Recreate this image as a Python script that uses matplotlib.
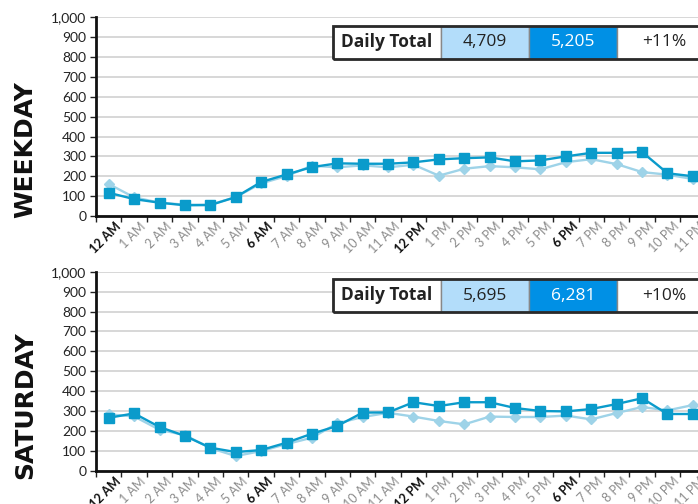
import matplotlib
matplotlib.use("Agg")
from matplotlib import pyplot as plt

# hourly volumes, current year (dark) vs previous year (light)
hours = ["12 AM", "1 AM", "2 AM", "3 AM", "4 AM", "5 AM", "6 AM", "7 AM", "8 AM", "9 AM",
         "10 AM", "11 AM", "12 PM", "1 PM", "2 PM", "3 PM", "4 PM", "5 PM", "6 PM", "7 PM",
         "8 PM", "9 PM", "10 PM", "11 PM"]
bold_hours = ["12 AM", "6 AM", "12 PM", "6 PM"]

weekday_now = [117, 85, 67, 54, 55, 95, 171, 209, 246, 265, 263, 263,
               270, 285, 291, 295, 275, 280, 300, 318, 318, 322, 215, 200]
weekday_prev = [161, 94, 67, 57, 57, 95, 164, 201, 253, 245, 255, 245,
                258, 203, 238, 251, 245, 235, 271, 286, 261, 221, 208, 186]
saturday_now = [267, 289, 221, 176, 117, 95, 105, 142, 187, 226, 293, 294,
                345, 326, 345, 345, 316, 301, 299, 311, 336, 365, 286, 286]
saturday_prev = [284, 274, 207, 180, 115, 75, 100, 135, 167, 239, 271, 292,
                 273, 251, 234, 273, 271, 271, 278, 259, 291, 321, 304, 331]

panel_names = ["WEEKDAY", "SATURDAY"]
totals_prev = ["4,709", "5,695"]
totals_now = ["5,205", "6,281"]
changes = ["+11%", "+10%"]

DARK = "#0A9BCB"
LIGHT = "#9ED3E8"
W, H = 698, 504

fig = plt.figure(figsize=(W / 100, H / 100), dpi=100)

# axes boxes in pixels: left, top(y=1000), bottom(y=0)
boxes = [(96, 17.3, 216), (96, 271.7, 471)]
slot = 25.4
series = [(weekday_now, weekday_prev), (saturday_now, saturday_prev)]

for i, (left, top, bottom) in enumerate(boxes):
    width = slot * 24
    ax = fig.add_axes([left / W, 1 - bottom / H, width / W, (bottom - top) / H])
    now, prev = series[i]
    x = [k + 0.5 for k in range(24)]
    ax.plot(x, prev, color=LIGHT, lw=1.7, marker="D", ms=5, zorder=3)
    ax.plot(x, now, color=DARK, lw=1.7, marker="s", ms=7.5, zorder=4)

    ax.set_xlim(0, 24)
    ax.set_ylim(0, 1000)
    ax.set_yticks(range(0, 1001, 100))
    ax.set_yticklabels([f"{v:,}" for v in range(0, 1001, 100)],
                       fontsize=10, color="#222222", family="Lato")
    ax.yaxis.grid(True, color="#d4d4d4", lw=1.3)
    ax.set_axisbelow(True)
    ax.tick_params(axis="y", length=4, width=1, color="#222222", pad=3)

    ax.set_xticks(range(25))
    ax.set_xticklabels([])
    ax.tick_params(axis="x", length=4, width=1, color="#222222", direction="out")
    for k, h in enumerate(hours):
        bold = h in bold_hours
        ax.text(k + 0.72, -22, h, rotation=45, ha="right", va="top",
                rotation_mode="anchor", fontsize=9,
                color="#111111" if bold else "#8c8c8c",
                fontweight="bold" if bold else "normal", family="Lato",
                transform=ax.transData, clip_on=False)

    for s in ["top", "right"]:
        ax.spines[s].set_visible(False)
    for s in ["left", "bottom"]:
        ax.spines[s].set_color("#111111")
        ax.spines[s].set_linewidth(2)

    # rotated panel title
    fig.text(25 / W, 1 - (bottom - 66) / H, panel_names[i], rotation=90,
             ha="center", va="center", fontsize=18, fontweight="bold",
             color="#111111", family="DejaVu Sans")

    # daily total table
    ttop = top + 8.3 if i == 0 else top + 7.3
    tbot = ttop + 33
    cells = [(333, 441, "white", "Daily Total", "#222222", "bold"),
             (441, 529, "#B3DDFA", totals_prev[i], "#222222", "normal"),
             (529, 617, "#0090E5", totals_now[i], "white", "normal"),
             (617, 712, "white", changes[i], "#222222", "normal")]
    for x0, x1, fc, label, tc, fw in cells:
        rect = plt.Rectangle((x0 / W, 1 - tbot / H), (x1 - x0) / W, (tbot - ttop) / H,
                             transform=fig.transFigure, facecolor=fc,
                             edgecolor="#888888", lw=1, zorder=5)
        fig.patches.append(rect)
        fig.text((x0 + x1) / 2 / W, 1 - (ttop + tbot) / 2 / H, label,
                 ha="center", va="center", fontsize=12.5, color=tc,
                 fontweight=fw, family="Open Sans", zorder=6)
    outline = plt.Rectangle((333 / W, 1 - tbot / H), (712 - 333) / W, (tbot - ttop) / H,
                            transform=fig.transFigure, facecolor="none",
                            edgecolor="#2a2a2a", lw=2, zorder=7)
    fig.patches.append(outline)

fig.savefig("out.png", dpi=100)
